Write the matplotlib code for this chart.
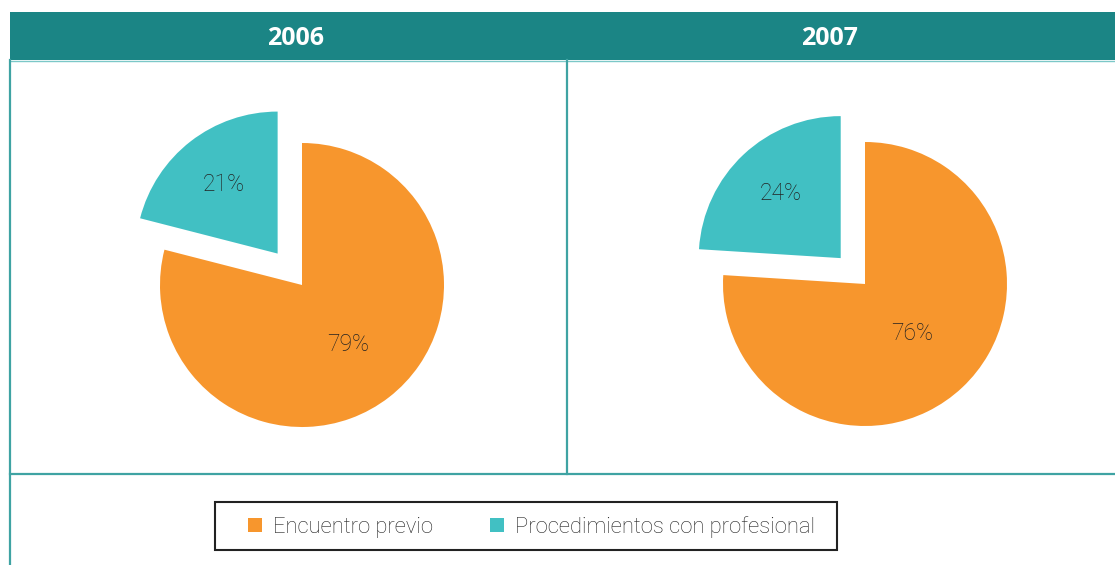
import matplotlib
matplotlib.use("Agg")
import matplotlib.pyplot as plt
from matplotlib.patches import Rectangle, Patch
from matplotlib.lines import Line2D

# ---- data ----
years = ["2006", "2007"]
categories = ["Encuentro previo", "Procedimientos con profesional"]
values_2006 = [79, 21]
values_2007 = [76, 24]

colors = ["#F7962D", "#41C0C3"]
header_col = "#1B8585"
line_col = "#3FA3A3"
text_col = "#222222"

W, H = 1115, 565
fig = plt.figure(figsize=(W / 100, H / 100), dpi=100)
fig.patch.set_facecolor("white")

# overlay axes in pixel coords
bg = fig.add_axes([0, 0, 1, 1])
bg.set_xlim(0, W)
bg.set_ylim(H, 0)
bg.axis("off")

bg.add_patch(Rectangle((10, 12), W - 10, 48, facecolor=header_col, edgecolor="none", zorder=1))
bg.add_line(Line2D([10, W], [60.5, 60.5], color="#7CC8C8", lw=1.0, zorder=2))
bg.add_line(Line2D([10, 10], [60, H], color=line_col, lw=1.6, zorder=2))
bg.add_line(Line2D([567, 567], [60, 474], color=line_col, lw=1.6, zorder=2))
bg.add_line(Line2D([10, W], [474, 474], color=line_col, lw=1.6, zorder=2))
# legend frame
bg.add_patch(Rectangle((215, 502), 622, 48, facecolor="white", edgecolor="#222222",
                       lw=1.5, zorder=2))

header_x = [296, 829]
for yr, hx in zip(years, header_x):
    bg.text(hx, 38.5, yr, color="white", fontsize=18, fontweight="bold",
            family=["Open Sans", "DejaVu Sans"], ha="center", va="center", zorder=3)

# pies
R = 142.0
half = 210.0
pie_specs = [
    (values_2006, (302, 285), 0.28, 0.53, 0.62),
    (values_2007, (865, 284), 0.25, 0.48, 0.62),
]
for vals, (cx, cy), expl, pd_main, pd_small in pie_specs:
    ax = fig.add_axes([(cx - half) / W, (H - cy - half) / H, 2 * half / W, 2 * half / H])
    ax.set_aspect("equal")
    ax.axis("off")
    wedges, texts, autotexts = ax.pie(
        vals, colors=colors, startangle=90, counterclock=False,
        explode=[0, expl], autopct=lambda p: f"{p:.0f}%", pctdistance=pd_small,
        wedgeprops=dict(linewidth=0), frame=False,
        textprops=dict(color=text_col, fontsize=16.5, weight="light",
                       family=["Roboto", "DejaVu Sans"]),
    )
    ax.set_xlim(-half / R, half / R)
    ax.set_ylim(-half / R, half / R)
    x, y = autotexts[0].get_position()
    autotexts[0].set_position((x * pd_main / pd_small, y * pd_main / pd_small))

# legend (frame drawn separately)
handles = [Patch(facecolor=c, edgecolor="none") for c in colors]
leg = fig.legend(handles, categories, loc="center",
                 bbox_to_anchor=(531.5 / W, 1 - 527 / H), ncol=2,
                 frameon=False,
                 prop=dict(family=["Roboto", "DejaVu Sans"], size=15.8, weight="light"),
                 handlelength=0.62, handleheight=0.62, handletextpad=0.5,
                 columnspacing=2.6, borderpad=0.0, borderaxespad=0)
leg.set_zorder(5)
for t in leg.get_texts():
    t.set_color(text_col)

fig.savefig("out.png", dpi=100, facecolor="white")
